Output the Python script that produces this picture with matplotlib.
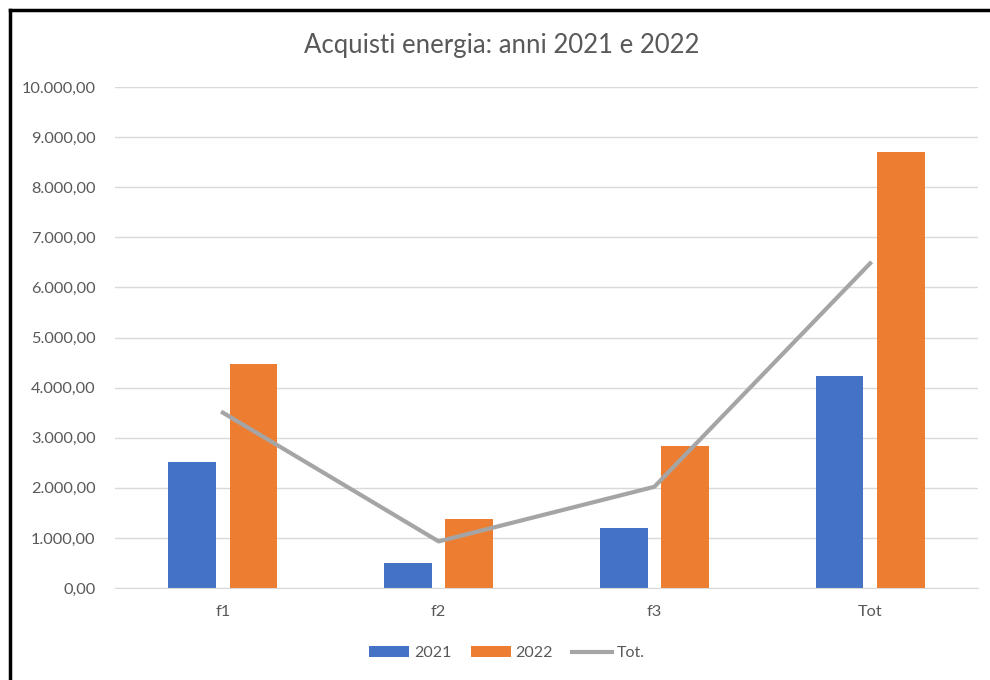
import numpy as np
import matplotlib
matplotlib.use("Agg")
import matplotlib.pyplot as plt
from matplotlib.lines import Line2D
from matplotlib.ticker import FuncFormatter, MultipleLocator

plt.rcParams['font.family'] = ['Lato', 'DejaVu Sans']

categories = ["f1", "f2", "f3", "Tot"]
anno_2021 = [2510, 490, 1200, 4230]
anno_2022 = [4470, 1370, 2835, 8695]
totale = [3500, 930, 2020, 6480]

blue = "#4472C4"
orange = "#ED7D31"
grey = "#A5A5A5"
text_col = "#595959"


def it_format(v, pos):
    s = "{:,.2f}".format(v)
    return s.replace(",", "X").replace(".", ",").replace("X", ".")


fig = plt.figure(figsize=(9.9, 6.8), dpi=100)
ax = fig.add_axes([115 / 990, 1 - 588 / 680, (978 - 115) / 990, (588 - 87) / 680])

x = np.arange(len(categories))
w = 0.222
b1 = ax.bar(x - 0.142, anno_2021, width=w, color=blue, label="2021", zorder=2)
b2 = ax.bar(x + 0.142, anno_2022, width=w, color=orange, label="2022", zorder=2)
l1, = ax.plot(x, totale, color=grey, linewidth=3, label="Tot.", zorder=3)

ax.set_xlim(-0.5, 3.5)
ax.set_ylim(0, 10000)
ax.yaxis.set_major_locator(MultipleLocator(1000))
ax.yaxis.set_major_formatter(FuncFormatter(it_format))
ax.set_xticks(x)
ax.set_xticklabels(categories)
ax.grid(axis="y", color="#D9D9D9", linewidth=1, zorder=0)
ax.set_axisbelow(True)
for s in ["top", "right", "left"]:
    ax.spines[s].set_visible(False)
ax.spines["bottom"].set_color("#D9D9D9")
ax.tick_params(axis="both", length=0, colors=text_col, labelsize=11.8)
ax.tick_params(axis="y", pad=14)
ax.tick_params(axis="x", pad=12)

fig.text(0.507, 1 - 45 / 680, "Acquisti energia: anni 2021 e 2022",
         ha="center", va="center", fontsize=18.5, color=text_col)

fig.legend([b1, b2, l1], ["2021", "2022", "Tot."],
           loc="center", bbox_to_anchor=(507 / 990, 1 - 653 / 680), ncol=3,
           frameon=False, fontsize=11.5, handlelength=2.5, columnspacing=1.2,
           handletextpad=0.3, labelcolor=text_col)

# black border of the screenshot (left and top)
fig.add_artist(Line2D([10 / 990, 10 / 990], [0, 1 - 10 / 680], color="black", linewidth=2.5))
fig.add_artist(Line2D([10 / 990, 1], [1 - 10 / 680, 1 - 10 / 680], color="black", linewidth=2.5))

fig.savefig("out.png", dpi=100)
